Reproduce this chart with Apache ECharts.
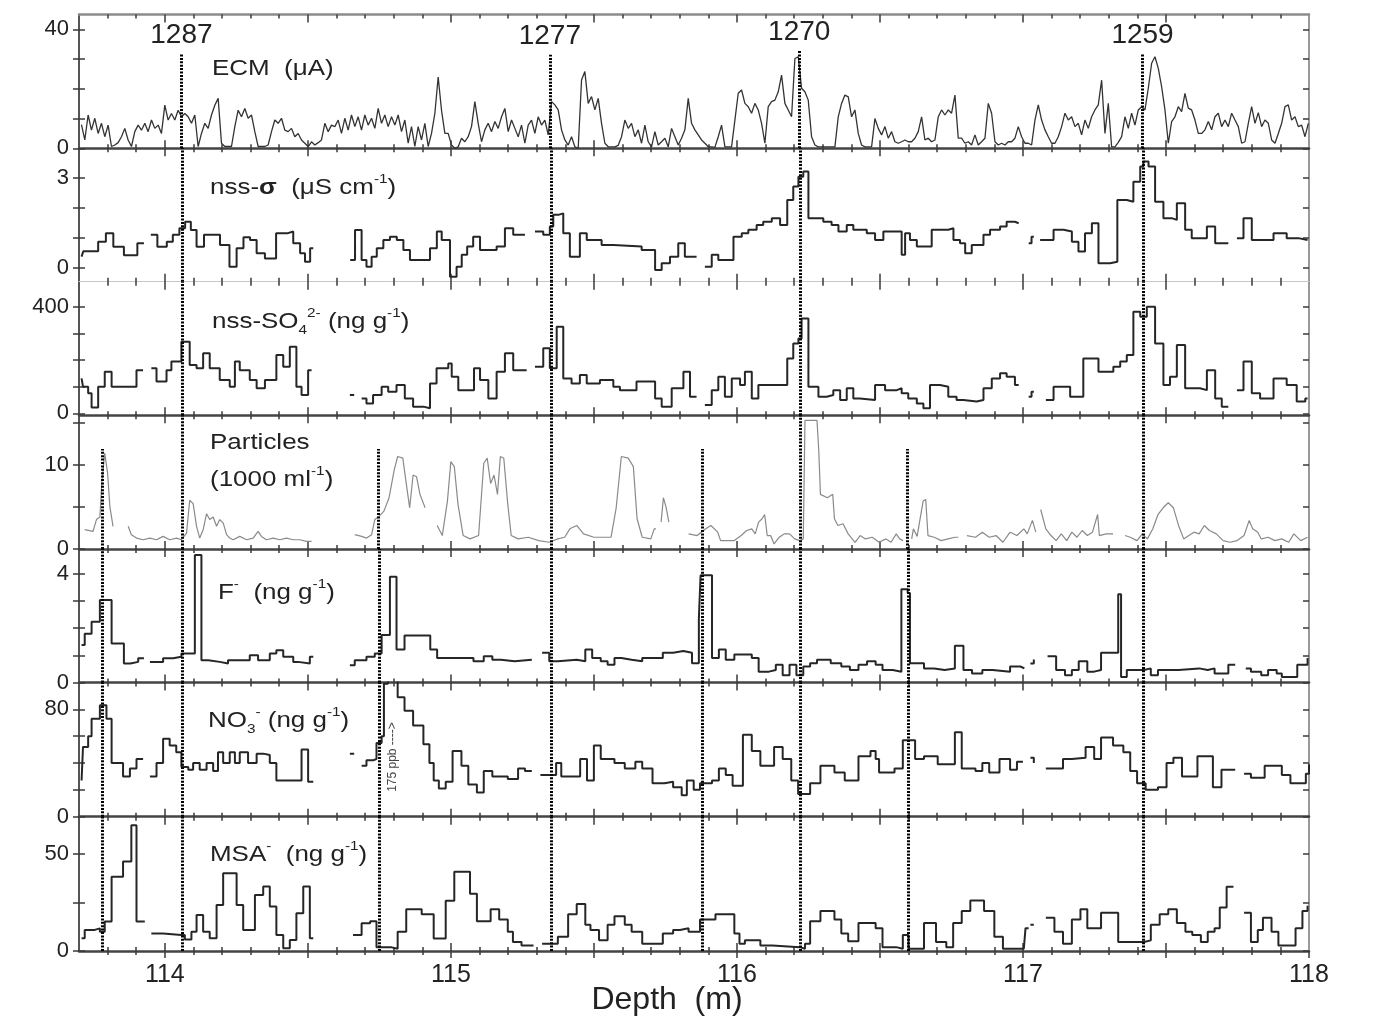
<!DOCTYPE html>
<html>
<head>
<meta charset="utf-8">
<title>Ice core depth profiles</title>
<script src="https://cdn.jsdelivr.net/npm/echarts@6/dist/echarts.min.js"></script>
<style>
  html, body { margin: 0; padding: 0; background: #fff; }
  #chart { width: 1400px; height: 1027px; }
</style>
</head>
<body>
<div id="chart"></div>
<script>
// ---- depth axis ----
var xMin = 113.7, xMax = 118;
var xLabels = [114, 115, 116, 117, 118];
var xMajor = [114, 114.5, 115, 115.5, 116, 116.5, 117, 117.5];

// ---- y ticks / labels per panel ----
var ecmTicks = [0, 10, 20, 30, 40], ecmLabels = [0, 40];
var sigmaTicks = [0, 1, 2, 3], sigmaLabels = [0, 3];
var so4Ticks = [0, 100, 200, 300, 400], so4Labels = [0, 400];
var partTicks = [0, 5, 10, 15], partLabels = [0, 10];
var fTicks = [0, 1, 2, 3, 4], fLabels = [0, 4];
var no3Ticks = [0, 20, 40, 60, 80], no3Labels = [0, 80];
var msaTicks = [0, 25, 50], msaLabels = [0, 50];

// ---- volcanic horizons ----
var eventDepths = [114.058, 115.346, 116.218, 117.418];
var eventNames = ['1287', '1277', '1270', '1259'];
var eventTops = [32, 31.5, 32.8, 32];          // ECM value where the dotted line starts
var fluorideDepths = [113.78, 114.745, 115.878, 116.596];
var fluorideTop = 11.9;                         // particle value where those lines start

// ---- ECM, regular sampling ----
var ecmStart = 113.7086, ecmStep = 0.011655;
var ecmValues = [
  8,2.8,11.2,6.1,10.1,5.0,8.4,3.9,7.8,0.6,
  1.1,1.9,3.9,6.7,2.8,0.6,5.6,7.8,6.1,8.4,
  5.6,9.5,6.7,7.8,5.0,14.5,9.5,11.7,9.5,12.8,
  10.6,11.7,10.6,8.4,11.2,0.6,5.0,8.4,6.7,11.2,
  14.5,16.8,1.7,0.6,0.6,0.6,7.3,12.8,10.6,13.4,
  10.1,11.2,5.6,0.6,0.6,0.6,1.1,5.6,9.5,8.4,
  10.1,6.1,5.6,6.7,3.9,5.0,2.8,1.7,0.6,2.2,
  1.1,1.9,2.8,8.4,5.6,7.8,7.3,9.5,5.0,10.1,
  6.1,11.2,7.3,10.6,6.1,11.2,7.8,10.1,6.7,13.4,
  8.4,11.2,7.3,10.6,7.8,11.2,5.6,9.5,1.7,7.3,
  0.6,7.3,2.8,8.4,0.6,5.0,11.7,24,12.8,5.0,
  5.0,1.1,0,0.5,3.4,2.2,3.9,7.3,15.7,8.4,
  2.2,6.2,8.4,5.6,9.0,6.7,10.6,13.4,5.6,9.5,
  6.7,3.9,7.8,1.7,7.8,9.5,5.0,10.6,7.8,9.5,
  4.5,15.7,14.6,12.9,6.2,2.8,1.1,3.9,0.5,0,
  23,25.8,15.1,17.4,12.9,16.8,8.4,1.7,0.5,0.5,
  0.5,1.0,3.9,9.5,6.7,8.4,3.9,6.2,1.7,7.8,
  2.2,0.5,5.6,1.1,2.2,3.4,0.5,6.7,3.9,1.1,
  3.4,6.2,16.8,8.4,6.2,4.5,2.8,1.7,0.5,0.5,
  0.3,3.9,7.8,0.5,0.5,0.5,9.5,18.5,19.6,15.1,
  14,11.8,15.1,12.9,8.4,1.7,14,15.7,16.2,19,
  24.6,15.1,12.9,10.6,30.2,30.8,20.2,19,16.2,3.9,
  1.1,0.5,0.5,0.5,0.5,0.5,0.5,10.6,15.1,17.9,
  17.3,10.6,12.9,5.0,1.1,0.5,0.5,0.5,10.0,6.7,
  4.5,7.3,3.4,5.6,2.2,1.7,2.2,2.8,2.2,2.2,
  3.4,5.6,10.6,2.8,3.4,2.2,2.8,10.6,12.9,11.2,
  12.9,11.8,17.9,3.4,3.4,1.7,2.2,1.1,4.5,1.1,
  2.2,3.4,15.1,11.8,2.2,1.1,1.7,1.1,2.2,2.2,
  3.4,7.3,3.9,1.7,1.7,1.1,9.5,14.6,9.5,6.2,
  3.9,1.7,1.7,3.9,7.3,11.8,9.5,10.6,7.3,8.4,
  4.5,9.5,6.7,10.6,12.9,14.6,22.9,5.0,15.1,0.5,
  0.5,2.0,3.9,10.6,6.7,11.8,7.8,12.9,14.0,12.9,
  20.2,28.6,30.8,26.9,20.7,12.9,1.7,9.0,10.6,14.0,
  12.3,18.5,13.5,12.9,9.5,5.0,5.0,6.2,9.0,6.2,
  10.6,11.8,7.3,9.5,7.3,11.8,9.5,7.3,1.7,2.2,
  8.4,14.0,8.4,12.0,7.3,9.5,8.4,2.8,1.7,5.0,
  8.4,14.0,14.6,9.5,10.6,7.3,7.8,3.9,8.4
];

// ---- step profiles: [depth where the level starts, value], one array per unbroken run ----
var sigmaSegs = [
  [[113.709,0.37],[113.715,0.55],[113.767,0.87],[113.794,1.15],[113.820,0.70],[113.857,0.42],[113.904,0.82],[113.927,0.82]],
  [[113.951,1.10],[113.974,0.70],[114.007,0.87],[114.028,1.10],[114.051,1.32],[114.071,1.54],[114.091,1.26],[114.111,0.70],[114.137,1.10],[114.193,0.76],[114.226,0.03],[114.251,0.65],[114.275,1.02],[114.298,0.93],[114.321,0.48],[114.350,0.31],[114.389,1.15],[114.428,1.21],[114.449,0.82],[114.473,0.48],[114.490,0.20],[114.508,0.65],[114.519,0.65]],
  [[114.648,0.26],[114.665,1.26],[114.688,0.26],[114.705,0.03],[114.723,0.37],[114.741,0.65],[114.764,0.93],[114.787,1.04],[114.811,0.93],[114.834,0.59],[114.857,0.26],[114.927,0.65],[114.951,1.21],[114.968,0.93],[114.997,-0.30],[115.020,0.03],[115.038,0.43],[115.057,0.71],[115.078,1.04],[115.102,0.59],[115.160,0.71],[115.189,1.32],[115.218,1.10],[115.259,1.10]],
  [[115.294,1.21],[115.323,1.10],[115.346,1.38],[115.358,1.77],[115.376,1.82],[115.393,1.15],[115.416,0.37],[115.451,1.15],[115.475,0.93],[115.527,0.76],[115.568,0.71],[115.667,0.59],[115.714,-0.08],[115.737,0.15],[115.766,0.37],[115.795,0.82],[115.818,0.37],[115.859,0.37]],
  [[115.888,0.03],[115.912,0.43],[115.935,0.26],[115.988,1.04],[116.017,1.15],[116.040,1.27],[116.069,1.43],[116.092,1.54],[116.122,1.66],[116.151,1.43],[116.176,2.27],[116.197,2.72],[116.215,3.05],[116.232,3.22],[116.250,1.66],[116.302,1.54],[116.331,1.43],[116.355,1.21],[116.384,1.43],[116.407,1.27],[116.454,1.15],[116.483,0.93],[116.512,1.21],[116.576,0.43],[116.588,1.15],[116.605,0.93],[116.629,0.71],[116.681,1.27],[116.739,1.32],[116.757,0.93],[116.780,0.82],[116.798,0.48],[116.821,0.76],[116.862,1.10],[116.885,1.27],[116.920,1.38],[116.943,1.54],[116.972,1.49],[116.985,1.49]],
  [[117.020,0.82],[117.030,1.04],[117.038,1.04]],
  [[117.060,0.93],[117.107,1.27],[117.142,1.21],[117.171,0.87],[117.194,0.54],[117.217,1.15],[117.241,1.49],[117.264,0.15],[117.305,0.20],[117.330,2.27],[117.363,2.21],[117.386,2.88],[117.410,3.39],[117.421,3.56],[117.439,3.39],[117.462,2.21],[117.491,1.66],[117.520,1.60],[117.538,2.16],[117.567,1.27],[117.590,0.99],[117.643,1.38],[117.672,0.82],[117.718,0.82]],
  [[117.748,0.99],[117.771,1.66],[117.800,0.93],[117.876,1.15],[117.922,0.99],[117.963,0.93],[117.995,0.93]]
];

var so4Segs = [
  [[113.709,131],[113.714,100],[113.732,75],[113.744,22],[113.767,100],[113.790,156],[113.814,100],[113.901,162],[113.924,162]],
  [[113.953,169],[113.971,119],[114.006,162],[114.023,194],[114.058,269],[114.087,181],[114.111,169],[114.134,225],[114.157,169],[114.192,125],[114.227,100],[114.245,194],[114.262,162],[114.297,125],[114.321,94],[114.350,125],[114.390,219],[114.414,175],[114.437,250],[114.460,100],[114.478,69],[114.501,162],[114.513,162]],
  [[114.647,69],[114.662,69]],
  [[114.688,56],[114.705,37],[114.728,69],[114.758,100],[114.781,81],[114.810,106],[114.839,56],[114.868,25],[114.904,19],[114.927,112],[114.950,169],[114.991,187],[115.003,137],[115.026,87],[115.081,169],[115.102,125],[115.131,56],[115.160,156],[115.189,225],[115.218,162],[115.265,162]],
  [[115.294,175],[115.323,244],[115.346,169],[115.370,325],[115.393,131],[115.422,112],[115.451,144],[115.475,112],[115.521,125],[115.568,100],[115.591,87],[115.649,119],[115.714,56],[115.737,25],[115.772,94],[115.813,156],[115.836,62],[115.859,62]],
  [[115.888,31],[115.912,87],[115.935,137],[115.958,62],[115.982,131],[116.011,106],[116.028,156],[116.052,56],[116.075,106],[116.176,206],[116.197,262],[116.215,281],[116.226,356],[116.250,100],[116.285,62],[116.314,69],[116.337,87],[116.361,50],[116.384,94],[116.407,56],[116.430,50],[116.483,106],[116.518,87],[116.559,94],[116.576,75],[116.599,56],[116.629,37],[116.652,19],[116.675,106],[116.710,100],[116.739,62],[116.768,50],[116.792,44],[116.838,50],[116.862,94],[116.891,131],[116.920,150],[116.943,137],[116.972,106],[116.985,106]],
  [[117.020,62],[117.030,81],[117.038,81]],
  [[117.080,50],[117.107,100],[117.165,62],[117.211,206],[117.264,156],[117.316,175],[117.340,194],[117.363,219],[117.386,381],[117.410,362],[117.433,400],[117.462,262],[117.491,106],[117.514,137],[117.538,256],[117.567,94],[117.619,87],[117.643,162],[117.672,56],[117.695,25],[117.718,25]],
  [[117.748,87],[117.771,194],[117.800,75],[117.829,56],[117.876,131],[117.922,106],[117.957,44],[117.987,56],[117.995,56]]
];

var particleSegs = [
  [[113.720,2.3],[113.749,2.1],[113.761,3.5],[113.773,3.8],[113.780,8.0],[113.790,11.4],[113.800,9.0],[113.808,5.0],[113.819,2.7]],
  [[113.872,2.7],[113.883,1.7],[113.901,1.3],[113.924,1.1],[113.948,1.3],[113.971,1.1],[113.994,1.5],[114.017,1.1],[114.041,1.3],[114.058,1.1],[114.076,1.9],[114.087,5.8],[114.099,5.4],[114.111,2.7],[114.122,1.3],[114.134,2.3],[114.146,4.2],[114.157,3.5],[114.169,3.8],[114.181,2.7],[114.192,3.5],[114.204,3.1],[114.216,1.7],[114.227,1.3],[114.239,1.1],[114.262,1.5],[114.286,1.1],[114.309,1.3],[114.326,2.1],[114.338,1.5],[114.355,1.1],[114.379,1.3],[114.402,1.1],[114.425,1.3],[114.449,1.1],[114.472,1.1],[114.495,0.9],[114.513,0.9]],
  [[114.664,1.7],[114.688,1.5],[114.705,1.3],[114.723,1.7],[114.734,3.5],[114.746,3.8],[114.766,4.5],[114.784,6.1],[114.802,9.4],[114.814,11.0],[114.832,10.8],[114.844,7.8],[114.856,4.9],[114.868,8.8],[114.880,8.6],[114.892,6.5],[114.910,4.9]],
  [[114.952,2.8],[114.970,1.6],[114.988,5.7],[115.000,10.4],[115.012,9.8],[115.025,5.3],[115.043,1.6],[115.067,1.2],[115.097,1.6],[115.115,10.2],[115.127,10.8],[115.139,7.8],[115.151,8.8],[115.163,6.5],[115.173,11.0],[115.185,10.8],[115.199,5.3],[115.211,1.6],[115.235,1.2],[115.271,1.4],[115.307,1.0],[115.344,0.8],[115.374,1.2],[115.398,1.4],[115.416,2.4],[115.440,2.8],[115.464,1.8],[115.500,1.4],[115.560,1.4],[115.578,4.9],[115.596,11.0],[115.620,10.8],[115.638,9.8],[115.651,3.6],[115.669,1.4],[115.699,1.2],[115.711,2.4],[115.717,2.4]],
  [[115.735,3.2],[115.743,6.1],[115.753,4.9],[115.762,3.2]],
  [[115.831,1.8],[115.861,1.6],[115.891,2.4],[115.909,2.8],[115.933,2.0],[115.943,1.0],[115.991,1.0],[116.015,1.6],[116.034,2.2],[116.052,2.4],[116.064,1.8],[116.076,3.2],[116.088,3.6],[116.097,4.1],[116.106,1.6],[116.118,1.6],[116.130,0.6],[116.148,1.4],[116.166,1.8],[116.184,1.8],[116.202,1.2],[116.220,1.0],[116.232,1.2],[116.238,15.3],[116.280,15.3],[116.286,11.8],[116.292,6.5],[116.316,6.1],[116.335,6.5],[116.341,3.6],[116.353,2.8],[116.371,3.0],[116.389,1.8],[116.413,0.8],[116.431,1.6],[116.449,1.2],[116.473,1.4],[116.497,0.8],[116.521,1.2],[116.539,0.8],[116.557,1.8],[116.569,1.2],[116.581,1.0]],
  [[116.611,1.2],[116.617,2.4],[116.630,1.5],[116.651,5.7],[116.660,5.9],[116.668,1.6],[116.690,1.4],[116.714,1.0],[116.738,1.2],[116.762,1.4],[116.774,1.4]],
  [[116.804,1.6],[116.834,1.4],[116.858,2.0],[116.882,1.4],[116.906,1.6],[116.930,0.8],[116.955,2.0],[116.979,1.6],[117.003,2.4],[117.015,1.8],[117.033,3.4],[117.045,2.0]],
  [[117.062,4.7],[117.080,2.4],[117.098,1.6],[117.116,1.0],[117.134,1.8],[117.153,1.0],[117.171,2.0],[117.189,1.4],[117.207,2.2],[117.225,1.6],[117.243,2.0],[117.261,4.1],[117.267,1.6],[117.291,1.8],[117.315,1.8]],
  [[117.357,1.6],[117.375,1.4],[117.399,1.0],[117.417,1.8],[117.435,1.2],[117.454,2.4],[117.472,4.1],[117.490,4.9],[117.508,5.5],[117.526,4.9],[117.544,2.8],[117.562,1.2],[117.580,1.6],[117.598,2.0],[117.616,1.8],[117.634,2.8],[117.652,2.2],[117.676,1.8],[117.700,1.0],[117.724,0.8],[117.749,1.0],[117.773,1.6],[117.791,3.4],[117.803,2.4],[117.821,2.0],[117.833,1.2],[117.857,1.4],[117.881,1.0],[117.905,1.2],[117.929,0.8],[117.947,1.8],[117.971,1.0],[117.995,1.4]]
];

var fluorideSegs = [
  [[113.709,1.38],[113.720,1.80],[113.744,2.24],[113.773,3.04],[113.814,1.44],[113.857,0.70],[113.880,0.76],[113.907,0.89],[113.927,0.89]],
  [[113.948,0.76],[113.994,0.89],[114.029,0.95],[114.058,1.07],[114.105,4.70],[114.128,0.82],[114.152,0.76],[114.192,0.70],[114.221,0.82],[114.297,1.00],[114.326,0.82],[114.367,1.07],[114.390,1.19],[114.414,0.95],[114.449,0.76],[114.466,0.70],[114.507,0.95],[114.519,0.95]],
  [[114.647,0.64],[114.664,0.82],[114.705,0.95],[114.734,1.07],[114.758,1.75],[114.787,3.90],[114.810,1.22],[114.838,1.73],[114.910,1.73],[114.928,1.22],[114.952,0.90],[115.079,0.78],[115.115,0.97],[115.145,0.84],[115.175,0.78],[115.223,0.84],[115.283,0.84]],
  [[115.319,1.10],[115.344,0.78],[115.374,0.84],[115.440,0.78],[115.470,1.22],[115.494,0.90],[115.524,0.78],[115.548,0.65],[115.572,0.90],[115.596,0.84],[115.632,0.78],[115.669,0.90],[115.741,1.10],[115.777,1.16],[115.813,1.10],[115.843,0.71],[115.867,2.36],[115.873,3.95],[115.913,0.90],[115.937,1.22],[115.961,0.84],[115.991,1.03],[116.052,0.90],[116.076,0.40],[116.112,0.46],[116.136,0.65],[116.160,0.27],[116.184,0.65],[116.208,0.27],[116.232,0.59],[116.256,0.71],[116.280,0.84],[116.328,0.71],[116.365,0.59],[116.395,0.46],[116.425,0.65],[116.455,0.78],[116.485,0.65],[116.509,0.46],[116.545,0.40],[116.575,3.44],[116.597,3.30],[116.605,0.71],[116.654,0.52],[116.690,0.46],[116.726,0.52],[116.762,1.35],[116.792,0.46],[116.822,0.33],[116.858,0.46],[116.894,0.40],[116.955,0.59],[116.991,0.52],[117.005,0.52]],
  [[117.026,0.70],[117.038,0.85]],
  [[117.086,0.97],[117.116,0.46],[117.147,0.27],[117.171,0.46],[117.195,0.78],[117.225,0.40],[117.249,0.46],[117.273,1.10],[117.315,1.10],[117.333,3.25],[117.343,0.20],[117.363,0.46],[117.423,0.52],[117.447,0.27],[117.472,0.46],[117.544,0.52],[117.616,0.46],[117.646,0.52],[117.670,0.33],[117.718,0.65],[117.742,0.65]],
  [[117.779,0.52],[117.797,0.40],[117.833,0.27],[117.857,0.46],[117.887,0.33],[117.905,0.20],[117.959,0.65],[117.995,0.90]]
];

var nitrateSegs = [
  [[113.709,27],[113.714,52],[113.732,60],[113.744,73],[113.773,83],[113.796,73],[113.814,40],[113.854,30],[113.878,36],[113.901,43],[113.924,43]],
  [[113.948,30],[113.971,40],[113.994,58],[114.017,53],[114.040,48],[114.058,37],[114.082,35],[114.099,40],[114.122,35],[114.146,40],[114.169,34],[114.186,48],[114.204,40],[114.227,48],[114.245,40],[114.262,48],[114.291,40],[114.321,47],[114.344,46],[114.367,40],[114.390,27],[114.449,27],[114.478,50],[114.501,26],[114.519,26]],
  [[114.647,47],[114.662,47]],
  [[114.688,38],[114.705,42],[114.728,43],[114.740,55],[114.758,60],[114.766,99],[114.780,175],[114.814,89],[114.838,79],[114.868,68],[114.904,54],[114.925,40],[114.940,27],[114.958,21],[114.982,26],[115.006,49],[115.037,38],[115.061,24],[115.091,18],[115.115,34],[115.145,30],[115.199,28],[115.235,36],[115.259,34],[115.283,34]],
  [[115.313,31],[115.344,31],[115.368,40],[115.386,30],[115.452,43],[115.476,27],[115.500,53],[115.524,43],[115.572,40],[115.608,36],[115.645,41],[115.669,36],[115.705,25],[115.747,26],[115.777,22],[115.807,16],[115.825,27],[115.849,20],[115.871,25],[115.913,27],[115.937,36],[115.961,31],[115.985,23],[116.021,61],[116.052,49],[116.082,38],[116.130,52],[116.160,43],[116.190,27],[116.214,17],[116.256,25],[116.292,38],[116.341,33],[116.377,27],[116.425,45],[116.467,49],[116.485,43],[116.497,33],[116.551,36],[116.580,57],[116.623,43],[116.654,45],[116.702,39],[116.762,63],[116.786,36],[116.834,34],[116.858,40],[116.882,33],[116.918,43],[116.955,35],[116.979,41],[117.000,41]],
  [[117.026,44],[117.038,40]],
  [[117.080,36],[117.140,43],[117.171,44],[117.219,52],[117.249,43],[117.273,59],[117.315,53],[117.351,48],[117.375,34],[117.399,25],[117.429,20],[117.472,22],[117.502,40],[117.526,44],[117.556,30],[117.610,45],[117.664,22],[117.694,35],[117.742,35]],
  [[117.773,32],[117.797,29],[117.845,38],[117.905,31],[117.935,25],[117.989,32],[118.000,39]]
];

var msaSegs = [
  [[113.709,6.6],[113.720,10.9],[113.755,11.7],[113.773,10.0],[113.790,15.2],[113.814,38.4],[113.854,46.2],[113.883,65.0],[113.901,15.2],[113.930,15.2]],
  [[113.953,9.1],[113.994,8.3],[114.058,8.3],[114.070,6.0],[114.093,10.0],[114.111,18.6],[114.134,10.0],[114.157,6.6],[114.181,23.8],[114.204,40.2],[114.251,23.8],[114.274,10.9],[114.315,29.0],[114.344,33.3],[114.367,23.0],[114.390,8.3],[114.414,1.4],[114.437,5.7],[114.460,19.5],[114.484,33.3],[114.507,6.6],[114.519,6.6]],
  [[114.658,8.3],[114.688,14.3],[114.718,15.4],[114.740,2.0],[114.790,1.2],[114.814,10.0],[114.844,21.6],[114.898,19.0],[114.940,6.5],[114.982,26.0],[115.012,41.0],[115.067,29.6],[115.091,15.4],[115.139,21.6],[115.169,16.3],[115.199,10.0],[115.217,4.7],[115.247,2.9],[115.289,2.9]],
  [[115.319,3.7],[115.356,3.7],[115.374,7.3],[115.410,19.0],[115.440,24.3],[115.470,13.6],[115.488,10.9],[115.518,5.5],[115.548,13.6],[115.572,18.0],[115.608,13.6],[115.632,10.0],[115.669,3.7],[115.741,9.1],[115.777,10.9],[115.801,11.8],[115.831,10.0],[115.871,16.3],[115.925,19.0],[115.991,9.1],[116.009,3.7],[116.028,5.6],[116.082,2.9],[116.124,2.0],[116.220,1.2],[116.238,3.7],[116.256,15.4],[116.292,20.7],[116.341,16.3],[116.365,9.1],[116.389,5.0],[116.425,14.5],[116.461,14.5],[116.485,11.8],[116.509,2.0],[116.557,1.2],[116.580,8.3],[116.600,1.2],[116.654,14.5],[116.696,4.7],[116.732,2.0],[116.756,14.5],[116.786,20.7],[116.816,26.1],[116.864,20.7],[116.900,7.3],[116.930,1.2],[117.003,2.0],[117.009,11.8],[117.020,11.8]],
  [[117.026,13.6],[117.038,13.6]],
  [[117.080,17.2],[117.110,10.0],[117.140,3.7],[117.171,16.3],[117.201,21.6],[117.225,11.8],[117.273,19.8],[117.333,4.7],[117.423,5.5],[117.447,13.6],[117.478,19.0],[117.508,21.6],[117.538,14.5],[117.568,10.0],[117.592,8.3],[117.622,4.7],[117.646,10.0],[117.670,11.8],[117.688,22.5],[117.712,33.2],[117.736,33.2]],
  [[117.773,19.8],[117.797,4.7],[117.821,10.9],[117.839,17.2],[117.869,10.0],[117.893,2.9],[117.929,2.9],[117.953,11.8],[117.977,20.7],[117.995,23.4]]
];

// ---------------------------------------------------------------
var FONT = '"Liberation Sans", Arial, Helvetica, sans-serif';
var INK = '#262626';

// panel borders in px (top of each panel, plus the bottom of the last)
var edges = [14.5, 148.3, 281.7, 415.3, 549, 682.5, 816.7, 951];
var panels = [
  {min: 0, max: 45, ticks: ecmTicks, labels: ecmLabels},
  {min: -0.47, max: 4.0, ticks: sigmaTicks, labels: sigmaLabels},
  {min: -7.5, max: 494, ticks: so4Ticks, labels: so4Labels},
  {min: 0, max: 15.9, ticks: partTicks, labels: partLabels},
  {min: 0, max: 4.92, ticks: fTicks, labels: fLabels},
  {min: 0, max: 100, ticks: no3Ticks, labels: no3Labels},
  {min: 0, max: 69.4, ticks: msaTicks, labels: msaLabels}
];

var xMinor = [];
for (var t = 1138; t < 1180; t++) {
  if (t % 5 !== 0) xMinor.push(t / 10);
}

function xAxisCfg(gi, pos, inside, len, ticks, line, label) {
  return {
    type: 'value', gridIndex: gi, position: pos, min: xMin, max: xMax,
    axisLine: Object.assign({onZero: false, show: false}, line || {}),
    axisTick: {show: true, inside: inside, length: len, customValues: ticks,
      lineStyle: {color: '#3a3a3a', width: 1.5}},
    axisLabel: label || {show: false},
    splitLine: {show: false}
  };
}

function yAxisCfg(gi, p, pos, inside, line, withLabels) {
  return {
    type: 'value', gridIndex: gi, position: pos, min: p.min, max: p.max,
    axisLine: Object.assign({onZero: false, show: false}, line || {}),
    axisTick: {show: true, inside: inside, length: 6, customValues: p.ticks,
      lineStyle: {color: '#3a3a3a', width: 1.5}},
    axisLabel: withLabels ? {show: true, customValues: p.labels, fontSize: 22,
      fontFamily: FONT, color: '#222', margin: 10} : {show: false},
    splitLine: {show: false}
  };
}

var grids = [], xAxes = [], yAxes = [], xMain = [], yMain = [];
panels.forEach(function (p, i) {
  grids.push({left: 79, right: 91, top: edges[i], height: edges[i + 1] - edges[i]});
  var sep = i === 1 ? {show: true, lineStyle: {color: '#c8c8c8', width: 1}}
                    : {show: true, lineStyle: {color: '#444', width: 2.5}};
  xMain.push(xAxes.length);
  xAxes.push(xAxisCfg(i, 'bottom', true, 4, xMinor, sep));
  xAxes.push(xAxisCfg(i, 'bottom', true, 8, xMajor));
  xAxes.push(xAxisCfg(i, 'top', true, 4, xMinor,
    i === 0 ? {show: true, lineStyle: {color: '#8c8c8c', width: 2.5}} : null));
  xAxes.push(xAxisCfg(i, 'top', true, 8, xMajor));
  if (i === panels.length - 1) {
    xAxes.push(xAxisCfg(i, 'bottom', false, 4, xMinor));
    xAxes.push(xAxisCfg(i, 'bottom', false, 7, xMajor.concat([118]), null, {
      show: true, customValues: xLabels, showMaxLabel: true, fontSize: 25,
      fontFamily: FONT, color: '#222', margin: 12
    }));
  }
  yMain.push(yAxes.length);
  yAxes.push(yAxisCfg(i, p, 'left', false, {show: true, lineStyle: {color: '#555', width: 2}}, true));
  yAxes.push(yAxisCfg(i, p, 'left', true));
  yAxes.push(yAxisCfg(i, p, 'right', true, {show: true, lineStyle: {color: '#999', width: 2}}));
});

var series = [];
var firstOfGrid = [];

function addLine(gi, data, isStep, color, width) {
  if (firstOfGrid[gi] === undefined) firstOfGrid[gi] = series.length;
  series.push({
    type: 'line', xAxisIndex: xMain[gi], yAxisIndex: yMain[gi],
    data: data, step: isStep ? 'end' : false, symbol: 'none', showSymbol: false,
    silent: true, animation: false, clip: true,
    lineStyle: {color: color, width: width}
  });
}

var ecmData = ecmValues.map(function (v, k) { return [ecmStart + k * ecmStep, v]; });
addLine(0, ecmData, false, '#333', 1.3);
sigmaSegs.forEach(function (s) { addLine(1, s, true, INK, 2); });
so4Segs.forEach(function (s) { addLine(2, s, true, INK, 2); });
particleSegs.forEach(function (s) { addLine(3, s, false, '#8a8a8a', 1.2); });
fluorideSegs.forEach(function (s) { addLine(4, s, true, INK, 2); });
nitrateSegs.forEach(function (s) { addLine(5, s, true, INK, 2); });
msaSegs.forEach(function (s) { addLine(6, s, true, INK, 2); });

// dotted horizon lines
var dotStyle = {type: [2, 1.4], width: 3, color: '#000'};
function markLineOf(data, withLabel) {
  return {
    silent: true, animation: false, symbol: ['none', 'none'],
    lineStyle: dotStyle,
    label: withLabel ? {show: true, position: 'end', formatter: '{b}', fontSize: 28,
      fontFamily: FONT, color: '#222', distance: 4} : {show: false},
    emphasis: {disabled: true},
    data: data
  };
}
series[firstOfGrid[0]].markLine = markLineOf(eventDepths.map(function (d, k) {
  return [{name: eventNames[k], coord: [d, 0]}, {coord: [d, eventTops[k]]}];
}), true);
for (var g = 1; g < panels.length; g++) {
  var lines = eventDepths.map(function (d) { return {xAxis: d}; });
  if (g === 3) {
    fluorideDepths.forEach(function (d) { lines.push([{coord: [d, 0]}, {coord: [d, fluorideTop]}]); });
  } else if (g > 3) {
    fluorideDepths.forEach(function (d) { lines.push({xAxis: d}); });
  }
  series[firstOfGrid[g]].markLine = markLineOf(lines, false);
}

// panel titles
var rich = {
  m: {fontSize: 22, fontFamily: FONT, fill: '#222', lineHeight: 30, verticalAlign: 'middle'},
  b: {fontSize: 22, fontFamily: FONT, fontWeight: 'bold', fill: '#222', lineHeight: 30, verticalAlign: 'middle'},
  sup: {fontSize: 13, fontFamily: FONT, fill: '#222', lineHeight: 13, verticalAlign: 'top'},
  sub: {fontSize: 13, fontFamily: FONT, fill: '#222', lineHeight: 13, verticalAlign: 'bottom'}
};
function title(x, y, text) {
  return {type: 'text', x: x, y: y, scaleX: 1.18, silent: true,
    style: {text: text, rich: rich, align: 'left', verticalAlign: 'middle'}};
}

var option = {
  backgroundColor: '#fff',
  animation: false,
  grid: grids,
  xAxis: xAxes,
  yAxis: yAxes,
  series: series,
  graphic: [
    title(212, 69, '{m|ECM  (μA)}'),
    title(210, 188, '{m|nss-}{b|σ}{m|  (μS cm}{sup|-1}{m|)}'),
    title(212, 322, '{m|nss-SO}{sub|4}{sup|2-}{m| (ng g}{sup|-1}{m|)}'),
    title(210, 443, '{m|Particles}'),
    title(210, 480, '{m|(1000 ml}{sup|-1}{m|)}'),
    title(218, 593, '{m|F}{sup|-}{m|  (ng g}{sup|-1}{m|)}'),
    title(208, 721, '{m|NO}{sub|3}{sup|-}{m| (ng g}{sup|-1}{m|)}'),
    title(210, 855, '{m|MSA}{sup|-}{m|  (ng g}{sup|-1}{m|)}'),
    {type: 'text', x: 393, y: 757, rotation: Math.PI / 2, silent: true,
      style: {text: '175 ppb ---->', font: '12px ' + FONT, fill: '#444', align: 'center', verticalAlign: 'middle'}},
    {type: 'text', x: 667, y: 1000, silent: true,
      style: {text: 'Depth  (m)', font: '32px ' + FONT, fill: '#222', align: 'center', verticalAlign: 'middle'}}
  ]
};

var chart = echarts.init(document.getElementById('chart'));
chart.setOption(option);
</script>
</body>
</html>
